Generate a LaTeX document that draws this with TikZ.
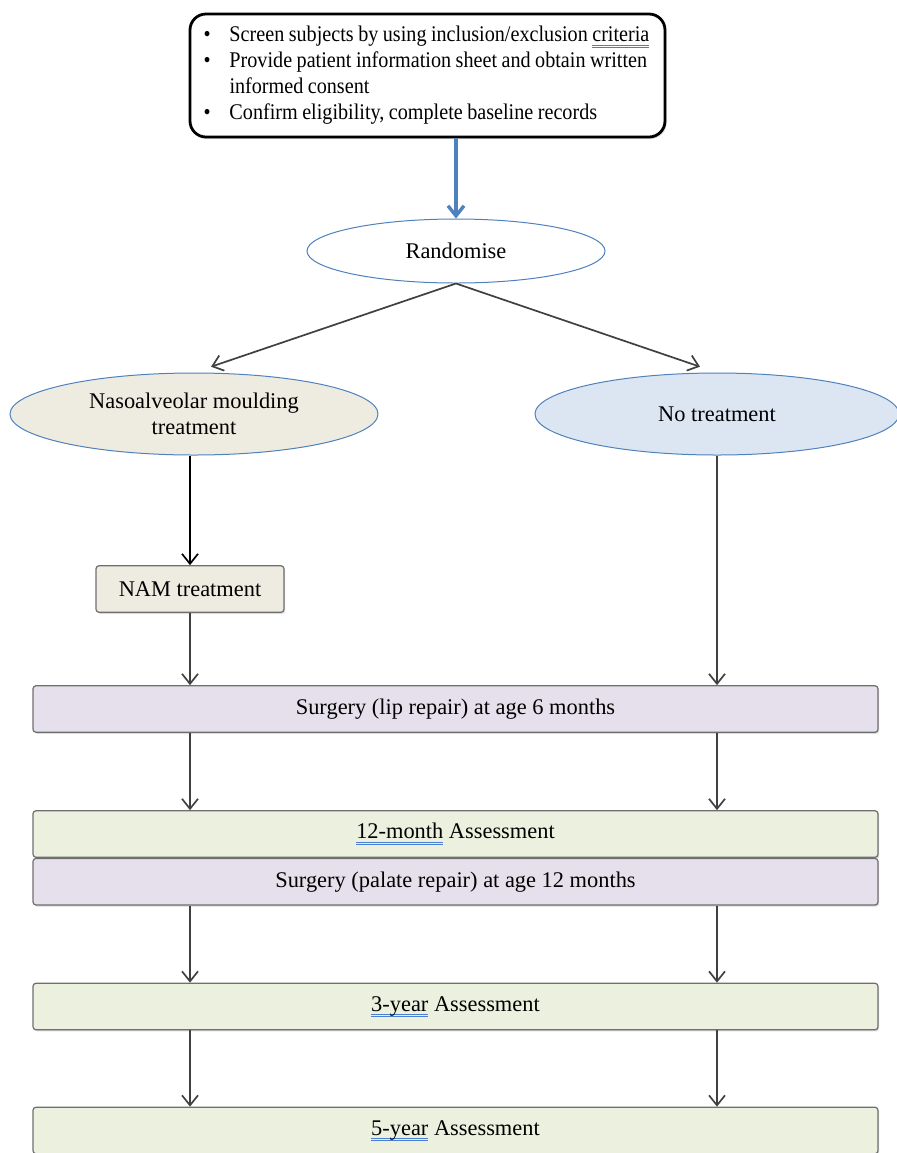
\documentclass[tikz,border=0pt]{standalone}
\usepackage{fontspec}
\setmainfont{Liberation Serif}
\newfontfamily\tightfont{Liberation Serif}[FakeStretch=0.9]
\usetikzlibrary{shapes.geometric,arrows.meta,positioning,shadows,calc}

\definecolor{lineblue}{HTML}{4F81BD}
\definecolor{spellblue}{HTML}{4A7FD0}
\definecolor{flowgray}{HTML}{404040}
\definecolor{boxgray}{HTML}{6F6F6F}
\definecolor{nambeige}{HTML}{EEECE1}
\definecolor{nonblue}{HTML}{DCE6F2}
\definecolor{surglilac}{HTML}{E5E0EC}
\definecolor{assessgreen}{HTML}{EBF1DE}

\newlength\spellwd
\newcommand\spellmark[1]{\settowidth\spellwd{#1}%
  \rlap{\textcolor{spellblue}{\rule[-1.8pt]{\spellwd}{0.45pt}}}%
  \rlap{\textcolor{spellblue}{\rule[-2.8pt]{\spellwd}{0.45pt}}}#1}
\newcommand\bul{\makebox[13pt][l]{\textbullet}}
\newcommand\toptext{\tightfont\fontsize{11.2}{13}\selectfont
  \spaceskip=0.2em plus 0.05em\relax}

\begin{document}
\begin{tikzpicture}[x=0.5pt,y=-0.5pt,>={Straight Barb[length=5pt,width=8pt]},
  every node/.style={font=\fontsize{11.2}{13}\selectfont},
  topbox/.style={draw,line width=1.4pt,rounded corners=8pt,fill=white,align=flush left,
    text width=224pt,inner xsep=0pt,minimum width=237.5pt,minimum height=61.5pt,font=\toptext,
    drop shadow={opacity=0.3,shadow xshift=0.8pt,shadow yshift=-1pt}},
  oval/.style={ellipse,draw=lineblue,line width=0.5pt,align=center,inner sep=0pt},
  stagebox/.style={draw=boxgray,line width=0.6pt,rounded corners=1.5pt,
    minimum width=422.5pt,minimum height=23.25pt,inner sep=0pt,
    drop shadow={opacity=0.3,shadow xshift=0.6pt,shadow yshift=-0.8pt}},
  flow/.style={draw=flowgray,line width=0.85pt,->},
  blueflow/.style={draw=lineblue,line width=1.7pt,->}]
 \useasboundingbox (0,0) rectangle (897,1153);

 % screening and randomisation
 \node[topbox] (screen) at (427.5,75.5)
   {\bul Screen subjects by using inclusion/exclusion \spellmark{criteria}\\
    \bul Provide patient information sheet and obtain written\\
    \hspace*{13pt}informed consent\\
    \bul Confirm eligibility, complete baseline records};
 \node[oval,fill=white,minimum width=149pt,minimum height=32pt] (rand) at (456,251) {Randomise};

 % the two arms
 \node[oval,fill=nambeige,minimum width=184pt,minimum height=41pt] (nasal) at (194,414)
   {Nasoalveolar moulding\\treatment};
 \node[oval,fill=nonblue,minimum width=182pt,minimum height=41pt] (notreat) at (717,414) {No treatment};
 \node[stagebox,fill=nambeige,minimum width=94pt] (nam) at (190,589) {NAM treatment};

 % common follow-up
 \node[stagebox,fill=surglilac] (lip) at (455.5,709) {Surgery (lip repair) at age 6 months};
 \node[stagebox,fill=assessgreen] (m12) at (455.5,834) {\spellmark{12-month} Assessment};
 \node[stagebox,fill=surglilac,below=0pt of m12] (palate) {Surgery (palate repair) at age 12 months};
 \node[stagebox,fill=assessgreen] (y3) at (455.5,1006.5) {\spellmark{3-year} Assessment};
 \node[stagebox,fill=assessgreen] (y5) at (455.5,1130.5) {\spellmark{5-year} Assessment};

 \draw[blueflow] (screen.south -| rand.north) -- (rand.north);
 \draw[flow,shorten >=9pt] (rand.south) -- (nasal.north);
 \draw[flow,shorten >=9pt] (rand.south) -- (notreat.north);
 \draw[flow,draw=black] (nasal.south -| nam.north) -- (nam.north);
 \draw[flow] (nam.south) -- (lip.north -| nam.south);
 \draw[flow] (notreat.south) -- (lip.north -| notreat.south);
 \foreach \from/\to in {lip/m12,palate/y3,y3/y5}{
   \draw[flow] (\from.south -| nam.south) -- (\to.north -| nam.south);
   \draw[flow] (\from.south -| notreat.south) -- (\to.north -| notreat.south);
 }
\end{tikzpicture}
\end{document}
